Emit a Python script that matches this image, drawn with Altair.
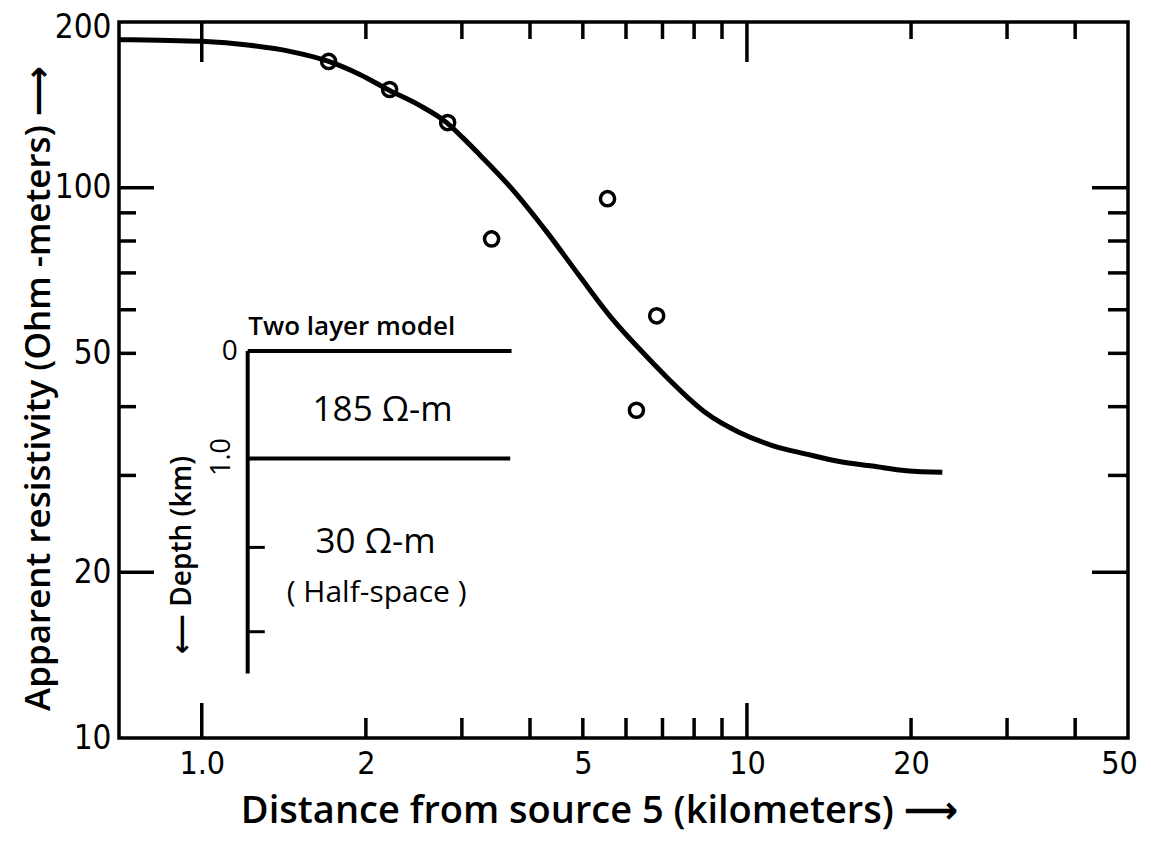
import altair as alt
import pandas as pd

# ---- data ----
curve_x = [0.7045, 0.8376, 1.0, 1.2247, 1.450, 1.7092, 1.9489, 2.2115, 2.5098, 2.8128,
           3.0099, 3.2332, 3.7167, 4.2896, 4.9314, 5.6671, 6.3531, 7.1188, 7.8456, 8.4293,
           9.6883, 11.135, 12.855, 14.774, 16.985, 19.606, 22.823]
curve_y = [185.7, 185.3, 184.5, 181.4, 176.9, 169.6, 160.6, 150.2, 141.1, 131.3,
           123.3, 114.8, 99.2, 83.2, 69.1, 57.7, 50.9, 45.3, 41.3, 38.9,
           35.9, 34.0, 32.8, 31.8, 31.2, 30.6, 30.4]

obs_x = [1.709, 2.211, 2.825, 3.401, 5.55, 6.83, 6.27]
obs_y = [169.6, 150.8, 131.3, 80.7, 95.5, 58.5, 39.4]

x_label_vals = [1, 2, 5, 10, 20, 50]
y_label_vals = [10, 20, 50, 100, 200]
x_major_ticks = [1, 10]
x_minor_ticks = [2, 3, 4, 5, 6, 7, 8, 9, 20, 30, 40]
y_major_ticks = [20, 100]
y_minor_ticks = [30, 40, 50, 60, 70, 80, 90]

# inset "two layer model" drawn in the chart's own data units
inset_axis_x = [1.214]
inset_axis_y = [50.5]
inset_axis_y2 = [13.1]
inset_layer_y = [50.5, 32.2]
inset_layer_x = [1.214, 1.214]
inset_layer_x2 = [3.70, 3.68]
inset_tick_y = [22.2, 15.6]

W, H = 1009, 716
XD = [0.705, 50]
YD = [10, 200]
xs = alt.Scale(type="log", domain=XD, nice=False)
ys = alt.Scale(type="log", domain=YD, nice=False)

NUM_FONT = "Liberation Sans Narrow, DejaVu Sans Condensed, Roboto, sans-serif"
TXT_FONT = "Open Sans, DejaVu Sans, sans-serif"

curve_df = pd.DataFrame({"x": curve_x, "y": curve_y})
obs_df = pd.DataFrame({"x": obs_x, "y": obs_y})

curve = alt.Chart(curve_df).mark_line(color="black", strokeWidth=5, interpolate="monotone").encode(
    x=alt.X("x:Q", scale=xs, axis=alt.Axis(
        values=x_label_vals, ticks=False, domain=False, grid=False,
        labelExpr="datum.value == 1 ? '1.0' : format(datum.value, 'd')",
        labelFont=NUM_FONT, labelFontSize=32, labelColor="black", labelPadding=10,
        labelFlush=False, labelOverlap=False,
        labelOffset={"condition": {"test": "datum.value == 50", "value": -9}, "value": 0},
        title="Distance from source 5 (kilometers) ⟶", titleFont=TXT_FONT,
        titleFontSize=38, titleFontWeight=600, titleColor="black",
        titleX=480, titleY=73, titleAlign="center", titleBaseline="middle")),
    y=alt.Y("y:Q", scale=ys, axis=alt.Axis(
        values=y_label_vals, ticks=False, domain=False, grid=False,
        labelExpr="format(datum.value, 'd')",
        labelFont=NUM_FONT, labelFontSize=33, labelColor="black", labelPadding=8,
        labelFlush=False, labelOverlap=False,
        labelOffset={"condition": {"test": "datum.value == 200", "value": 5}, "value": 0},
        title="Apparent resistivity (Ohm -meters) ⟶", titleFont=TXT_FONT,
        titleFontSize=35, titleFontWeight=600, titleColor="black",
        titleAngle=270, titleX=-81, titleY=366, titleAlign="center",
        titleBaseline="middle")),
)

points = alt.Chart(obs_df).mark_point(shape="circle", filled=False, color="black",
                                      strokeWidth=3.5, size=200, opacity=1).encode(
    x=alt.X("x:Q", scale=xs), y=alt.Y("y:Q", scale=ys))

def xticks(vals, y0, y1):
    return alt.Chart(pd.DataFrame({"v": vals})).mark_rule(color="black", strokeWidth=3.5).encode(
        x=alt.X("v:Q", scale=xs), y=alt.value(y0), y2=alt.value(y1))

def yticks(vals, x0, x1):
    return alt.Chart(pd.DataFrame({"v": vals})).mark_rule(color="black", strokeWidth=3.5).encode(
        y=alt.Y("v:Q", scale=ys), x=alt.value(x0), x2=alt.value(x1))

tick_layers = [
    xticks(x_major_ticks, H, H - 35), xticks(x_minor_ticks, H, H - 20),
    xticks(x_major_ticks, 0, 40), xticks(x_minor_ticks, 0, 17),
    yticks(y_major_ticks, 0, 35), yticks(y_minor_ticks, 0, 17),
    yticks(y_major_ticks, W, W - 36), yticks(y_minor_ticks, W, W - 20),
]

# inset lines
inset_v = alt.Chart(pd.DataFrame({"x": inset_axis_x, "y": inset_axis_y, "y2": inset_axis_y2})).mark_rule(
    color="black", strokeWidth=4).encode(x=alt.X("x:Q", scale=xs), y=alt.Y("y:Q", scale=ys), y2="y2:Q")
inset_h = alt.Chart(pd.DataFrame({"x": inset_layer_x, "x2": inset_layer_x2, "y": inset_layer_y})).mark_rule(
    color="black", strokeWidth=4).encode(x=alt.X("x:Q", scale=xs), x2="x2:Q", y=alt.Y("y:Q", scale=ys))
inset_t = alt.Chart(pd.DataFrame({"y": inset_tick_y, "x": [1.214] * 2, "x2": [1.305] * 2})).mark_rule(
    color="black", strokeWidth=3).encode(x=alt.X("x:Q", scale=xs), x2="x2:Q", y=alt.Y("y:Q", scale=ys))

def label(text, x, y, size, angle=0, weight=500):
    return alt.Chart(pd.DataFrame({"x": [x], "y": [y], "t": [text]})).mark_text(
        font=TXT_FONT, fontSize=size, fontWeight=weight, angle=angle, color="black",
        align="center", baseline="middle").encode(
        x=alt.X("x:Q", scale=xs), y=alt.Y("y:Q", scale=ys), text="t:N")

texts = [
    label("Two layer model", 1.884, 55.8, 26, weight=600),
    label("0", 1.126, 50.3, 28),
    label("1.0", 1.088, 32.4, 27, angle=270),
    label("185 Ω-m", 2.147, 39.4, 35),
    label("30 Ω-m", 2.084, 22.66, 35),
    label("( Half-space )", 2.093, 18.37, 30),
    label("⟵ Depth (km)", 0.923, 21.5, 28, angle=270, weight=600),
]

chart = alt.layer(curve, points, *tick_layers, inset_v, inset_h, inset_t, *texts).properties(
    width=W, height=H,
    padding={"left": 111, "top": 14, "right": 15, "bottom": 100},
    autosize=alt.AutoSizeParams(type="none"),
    background="white",
).configure_view(stroke="black", strokeWidth=3.5)

chart.save("out.html", embed_options={"renderer": "svg", "actions": False})
